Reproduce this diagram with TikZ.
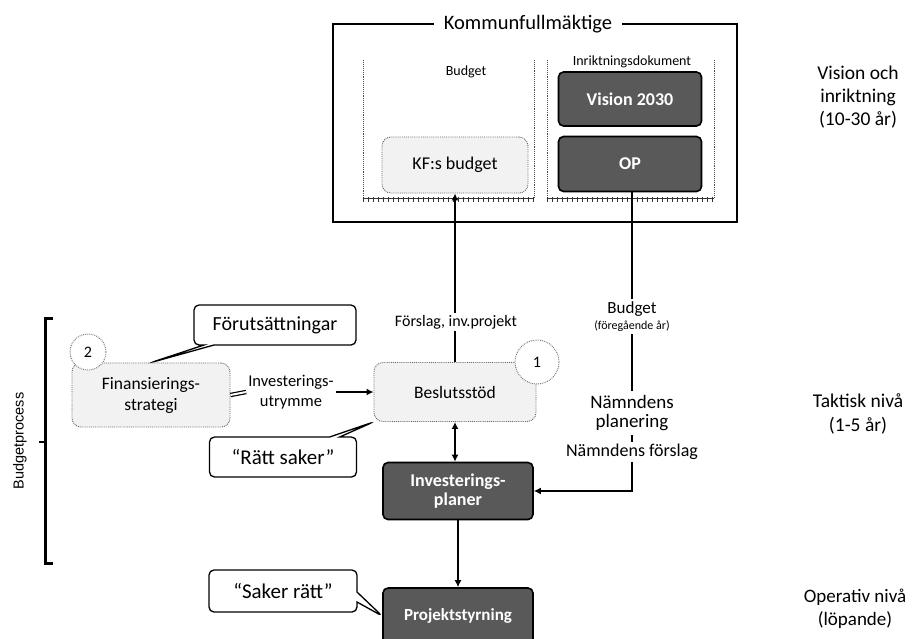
\documentclass[tikz,border=0pt]{standalone}
\usepackage{fontspec}
\setmainfont{Carlito}
\newfontfamily\arialfont{Liberation Sans}
\usetikzlibrary{arrows.meta,shapes.callouts,decorations.pathreplacing}
\newcommand{\fs}[1]{\fontsize{#1}{\the\dimexpr #1pt*6/5\relax}\selectfont}
\tikzset{
  darkbox/.style={draw=black, line width=1.6pt, fill=black!65, rounded corners=5pt, text=white,
    font=\bfseries\fs{17}, align=center, inner sep=2pt},
  lightbox/.style={draw=black!60, densely dotted, line width=0.9pt, fill=black!5, rounded corners=9pt, align=center, inner sep=2pt},
  callbox/.style={rectangle callout, draw, line width=1.3pt, rounded corners=5pt, fill=white,
    font=\fs{20}, callout pointer width=10pt, inner sep=2pt},
  arr/.style={-{Latex[length=7pt,width=7pt]}, line width=1.6pt},
  darr/.style={{Latex[length=7pt,width=7pt]}-{Latex[length=7pt,width=7pt]}, line width=1.6pt},
  lbl/.style={fill=white, align=center, inner sep=2pt},
  numcirc/.style={circle, draw=black!55, densely dotted, line width=0.9pt, fill=white, font=\fs{16}, inner sep=0pt},
  panel/.style={draw=black!70, densely dotted, line width=0.9pt},
  tickline/.style={draw=black!80, line width=0.8pt, decorate, decoration={ticks, segment length=5pt, amplitude=2.5pt}},
  side/.style={align=center, font=\fs{19.5}, inner sep=0pt}
}
\begin{document}
\begin{tikzpicture}[x=1pt, y=-1pt]
\useasboundingbox (0,0) rectangle (918,638);
\clip (0,0) rectangle (918,638);
\fill[white] (0,0) rectangle (918,638);

% Kommunfullmaktige frame
\draw[line width=2.8pt] (333,24) rectangle (737,222);
\node[fill=white, inner xsep=10pt, font=\fs{20.5}] (kf) at (528,24) {Kommunfullmäktige};

% panels
\draw[panel] (363,198) -- (363,60);
\draw[panel] (534,60) -- (534,198);
\draw[panel] (547,198) -- (547,60);
\draw[panel] (714,60) -- (714,198);
\draw[line width=1pt, black!80] (363,198) -- (534,198);
\draw[line width=1pt, black!80] (547,198) -- (714,198);
\draw[tickline] (363,199.5) -- (534,199.5);
\draw[tickline] (547,199.5) -- (714,199.5);
\node[font=\fs{14}] (budgetlbl) at (466,72) {Budget};
\node[font=\fs{14}] (inrlbl) at (632,62) {Inriktningsdokument};

% nodes
\node[lightbox, minimum width=146pt, minimum height=56pt, font=\fs{18}] (kfb) at (455,165) {KF:s budget};
\node[darkbox, minimum width=143pt, minimum height=54pt, font=\bfseries\fs{18}] (vis) at (630,99) {Vision 2030};
\node[darkbox, minimum width=143pt, minimum height=55pt, font=\bfseries\fs{18}] (op) at (630,164) {OP};

\node[lightbox, minimum width=162pt, minimum height=59pt, font=\fs{17.5}] (bes) at (455,392) {Beslutsstöd};
\node[lightbox, minimum width=158pt, minimum height=64pt, font=\fs{17.5}] (fin) at (151,395) {Finansierings-\\strategi};
\node[darkbox, minimum width=150pt, minimum height=57pt, font=\bfseries\fs{18}] (inv) at (458,491) {Investerings-\\[-3pt]planer};
\node[darkbox, minimum width=150pt, minimum height=56pt] (proj) at (458,616) {Projektstyrning};

\node[numcirc, minimum size=44pt] (c1) at (537,362) {1};
\node[numcirc, minimum size=36pt] (c2) at (88,352) {2};

% callouts
\node[callbox, minimum width=162pt, minimum height=40pt, callout absolute pointer={(fin.north)}] (fu) at (275,325) {Förutsättningar};
\node[callbox, minimum width=147pt, minimum height=40pt, font=\fs{21}, callout absolute pointer={(bes.south west)}] (rs) at (283,457) {“Rätt saker”};
\node[callbox, minimum width=148pt, minimum height=42pt, font=\fs{21}, callout absolute pointer={(proj.west)}] (sr) at (283,591) {“Saker rätt”};

% investeringsutrymme label
\node[lbl, font=\fs{16.5}] (iu) at (291,392) {Investerings-\\utrymme};

% connectors
\draw[arr] (bes.north) -- (bes.north |- kfb.south);
\draw[arr] (op.south) ++(2,0) coordinate (ops) -- (ops |- inv.east) -- (inv.east);
\draw[line width=1.2pt, double, double distance=2pt] (fin.east) -- (iu.west);
\draw[arr] (iu.east) -- (bes.west);
\draw[darr] (bes.south) -- (bes.south |- inv.north);
\draw[arr] (inv.south) -- (proj.north);

% labels on connectors
\node[lbl, font=\fs{16}] (forslag) at (456,322) {Förslag, inv.projekt};
\node[lbl, font=\fs{17}, inner sep=3pt] (budg) at (632,309) {Budget};
\node[lbl, font=\fs{12}, inner sep=3pt] (foreg) at (632,326) {(föregående år)};
\node[lbl, font=\fs{19}, inner sep=4pt] (nplan) at (632,413) {Nämndens\\[-3pt]planering};
\node[lbl, font=\fs{18}] (nforsl) at (632,452) {Nämndens förslag};

% budgetprocess bracket
\draw[line width=3pt] (53,318) -- (45,318) -- (45,563) -- (53,563);
\draw[line width=2pt] (45,442) -- (39,442);
\node[rotate=90, font=\arialfont\fs{14.5}] (bp) at (20,441) {Budgetprocess};

% side labels
\node[side] (vision) at (858,97) {Vision och\\inriktning\\(10-30 år)};
\node[side] (taktisk) at (858,414) {Taktisk nivå\\(1-5 år)};
\node[side, font=\fs{19}] (oper) at (855,609) {Operativ nivå\\(löpande)};
\end{tikzpicture}
\end{document}
